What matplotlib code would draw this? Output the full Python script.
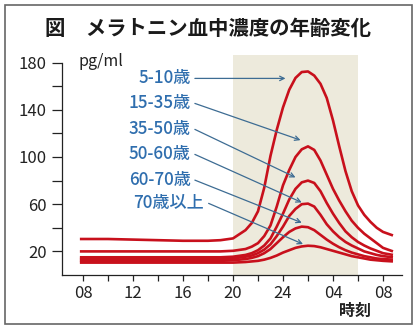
import matplotlib
matplotlib.use("Agg")
import matplotlib.pyplot as plt
from matplotlib.patches import Rectangle

plt.rcParams['font.family'] = ['Noto Sans CJK JP', 'DejaVu Sans']

# time of day in hours (24 = midnight, 32 = 08 next morning)
hours = [7.75, 10, 12, 14, 16, 18, 19, 20, 21, 21.5, 22, 22.5, 23, 23.5, 24, 24.5,
         25, 25.5, 26, 26.5, 27, 27.5, 28, 28.5, 29, 29.5, 30, 30.5, 31, 31.5, 32, 32.8]

# melatonin (pg/ml) per age group
age_5_10 = [30.5, 30.5, 30, 29.5, 29, 29, 29.5, 31, 38, 44, 54, 74, 101, 123, 142, 157,
            167, 172, 172.5, 169, 162, 150, 131, 109, 88, 71, 59, 51, 45, 40, 36.5, 33.5]
age_15_35 = [20, 20, 20, 20, 20, 20, 20, 20.5, 22, 24, 27, 33, 42, 58, 76, 89,
             100, 106.5, 109, 106, 97, 85, 73, 63, 54, 46, 40, 35, 31, 27, 23, 20]
age_35_50 = [15, 15, 15, 15, 15, 15, 15, 15.5, 17, 18.5, 21, 25, 31, 41, 52, 64,
             73, 78.5, 80, 78, 71, 61, 52, 44, 37, 32, 28, 25, 22.5, 20.5, 18.5, 17]
age_50_60 = [13.5, 13.5, 13.5, 13.5, 13.5, 13.5, 13.5, 14, 15.5, 16.5, 18.5, 21.5, 26, 33, 41, 50,
             56, 60, 60.5, 58, 51, 43, 37, 32, 28, 25, 22.5, 20, 18.5, 17, 16, 15]
age_60_70 = [12, 12, 12, 12, 12, 12, 12, 12.5, 13.5, 14.5, 16, 18.5, 22, 27, 32, 36.5,
             39.5, 41, 40.5, 38, 34, 30, 26.5, 23.5, 21, 19, 17.5, 16, 15, 14, 13.5, 13]
age_70_up = [10.5, 10.5, 10.5, 10.5, 10.5, 10.5, 10.5, 10.5, 11, 11.5, 12, 13, 14.5, 16.5, 19, 21,
             23, 24.2, 24.8, 24.5, 23.5, 22, 20.5, 19, 17.5, 16, 15, 14, 13, 12.5, 12, 11.5]

series = [age_5_10, age_15_35, age_35_50, age_50_60, age_60_70, age_70_up]
labels = ['5-10歳', '15-35歳', '35-50歳', '50-60歳', '60-70歳', '70歳以上']

# label anchor (x, y) and arrow tip (x, y) in data units
label_pos = [(16.6, 166.6), (16.6, 145.4), (16.6, 123.4), (16.6, 102.2), (16.6, 80.4), (17.7, 60.7)]
arrow_tip = [(24.2, 166.6), (25.4, 114.3), (25.0, 82.7), (25.5, 61.5), (25.5, 44.3), (25.6, 26.2)]

xticks = [8, 12, 16, 20, 24, 28, 32]
xtick_labels = ['08', '12', '16', '20', '24', '04', '08']
yticks = [20, 60, 100, 140, 180]

fig = plt.figure(figsize=(4.17, 3.32), dpi=100)
ax = fig.add_axes([0.1487, 0.1717, 0.8153, 0.6753])

ax.axvspan(20, 30, ymin=0, ymax=186.5 / 190, color='#EDEADC', lw=0, zorder=0)

for vals in series:
    ax.plot(hours, vals, color='#C8101C', lw=1.9, solid_capstyle='butt', zorder=3)

for lab, (lx, ly), (tx, ty) in zip(labels, label_pos, arrow_tip):
    ax.text(lx, ly, lab, ha='right', va='center', fontsize=12.3, color='#2F6EAE',
            fontweight='medium')
    ax.annotate('', xy=(tx, ty), xytext=(lx + 0.35, ly),
                arrowprops=dict(arrowstyle='->', color='#3D6C93', lw=0.9,
                                shrinkA=0, shrinkB=0, mutation_scale=8), zorder=4)

ax.set_xlim(6.32, 33.52)
ax.set_ylim(0, 190)
ax.set_xticks(xticks)
ax.set_xticklabels(xtick_labels, fontsize=12)
ax.set_xticks(range(10, 33, 4), minor=True)
ax.set_yticks(yticks)
ax.set_yticklabels([str(v) for v in yticks], fontsize=12)
ax.set_yticks([40, 80, 120, 160], minor=True)
ax.tick_params(axis='y', which='both', length=7, width=0.9, pad=4, colors='#222222')
ax.tick_params(axis='x', which='both', length=4.5, width=0.9, pad=3, colors='#222222')

for side in ['top', 'right']:
    ax.spines[side].set_visible(False)
ax.spines['left'].set_bounds(0, 180)
for side in ['left', 'bottom']:
    ax.spines[side].set_linewidth(0.9)
    ax.spines[side].set_color('#222222')

fig.text(78 / 417, 1 - 62 / 332, 'pg/ml', fontsize=11.5, color='#222222',
         ha='left', va='center')
fig.text(355 / 417, 1 - 311 / 332, '時刻', fontsize=11.5, fontweight='bold',
         ha='center', va='center', color='#222222')
fig.text(45 / 417, 1 - 28 / 332, '図\u3000メラトニン血中濃度の年齢変化', fontsize=14.7,
         fontweight='bold', ha='left', va='center', color='#1a1a1a')

fig.patches.append(Rectangle((5 / 417, 8 / 332), 407 / 417, 319 / 332,
                             transform=fig.transFigure, fill=False,
                             edgecolor='#666666', lw=1.2))

fig.savefig('out.png', dpi=100)
